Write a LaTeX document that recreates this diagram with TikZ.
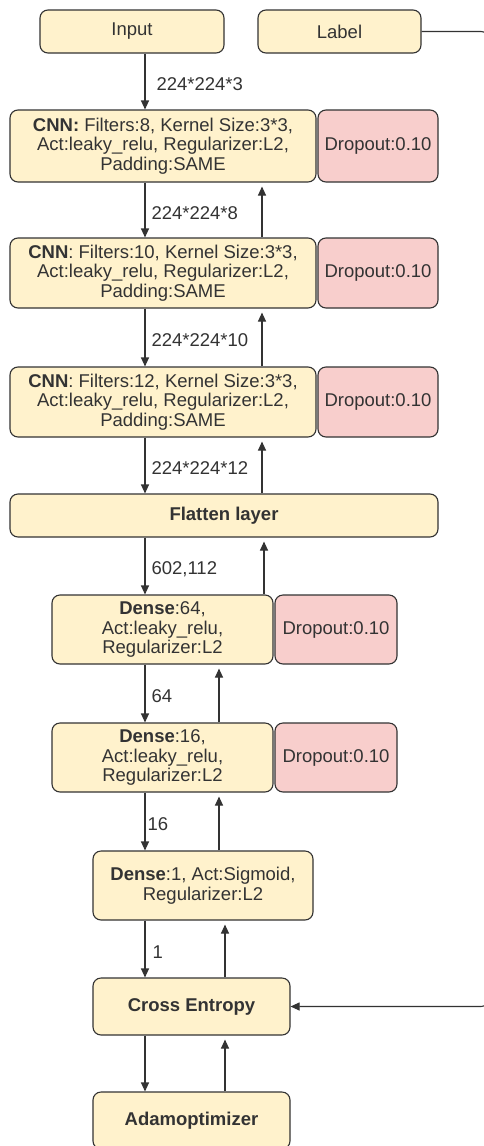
\documentclass[tikz,border=0pt]{standalone}
\usepackage{fontspec}
\setmainfont{Liberation Sans}
\usetikzlibrary{arrows.meta}
\definecolor{boxfill}{HTML}{FFF2CC}
\definecolor{dropfill}{HTML}{F8CECC}
\definecolor{ink}{HTML}{333333}
\begin{document}
\begin{tikzpicture}[x=1pt,y=-1pt,
  box/.style={draw=ink, line width=1.1pt, rounded corners=8pt, fill=boxfill, text=ink,
    align=center, inner sep=0pt, font=\fontsize{18.5}{19.7}\selectfont},
  dropbox/.style={box, fill=dropfill},
  arr/.style={draw=ink, line width=1.1pt, -{Triangle[width=8pt,length=9pt]}},
  lab/.style={right, inner sep=0pt, text=ink, font=\fontsize{18.5}{19.7}\selectfont, pos=0.55}
]
\useasboundingbox (0,0) rectangle (483,1146);
\fill[white] (0,0) rectangle (483,1146);

\coordinate (dn) at (145,0);
\coordinate (upA) at (262,0);
\coordinate (upB) at (264,0);
\coordinate (upC) at (219,0);
\coordinate (upD) at (225,0);
\coordinate (rt) at (490,0);

\node[box, minimum width=184pt, minimum height=43pt] (input) at (132,31.5) {Input};
\node[box, minimum width=163pt, minimum height=43pt] (label) at (339.5,31.5) {Label};

\node[box, minimum width=306pt, minimum height=72pt] (cnn1) at (163,146)
  {\textbf{CNN:} Filters:8, Kernel Size:3*3,\\Act:leaky\_relu, Regularizer:L2,\\Padding:SAME};
\node[dropbox, minimum width=120pt, minimum height=72pt] (drop1) at (378,146) {Dropout:0.10};

\node[box, minimum width=306pt, minimum height=70pt] (cnn2) at (163,273)
  {\textbf{CNN}: Filters:10, Kernel Size:3*3,\\Act:leaky\_relu, Regularizer:L2,\\Padding:SAME};
\node[dropbox, minimum width=120pt, minimum height=70pt] (drop2) at (378,273) {Dropout:0.10};

\node[box, minimum width=306pt, minimum height=70pt] (cnn3) at (163,402)
  {\textbf{CNN}: Filters:12, Kernel Size:3*3,\\Act:leaky\_relu, Regularizer:L2,\\Padding:SAME};
\node[dropbox, minimum width=120pt, minimum height=70pt] (drop3) at (378,402) {Dropout:0.10};

\node[box, minimum width=428pt, minimum height=43pt] (flat) at (224,515.5) {\textbf{Flatten layer}};

\node[box, minimum width=221pt, minimum height=69pt] (d64) at (162.5,629.5)
  {\textbf{Dense}:64,\\Act:leaky\_relu,\\Regularizer:L2};
\node[dropbox, minimum width=122pt, minimum height=69pt] (drop4) at (336,629.5) {Dropout:0.10};

\node[box, minimum width=221pt, minimum height=69pt] (d16) at (162.5,757.5)
  {\textbf{Dense}:16,\\Act:leaky\_relu,\\Regularizer:L2};
\node[dropbox, minimum width=122pt, minimum height=69pt] (drop5) at (336,757.5) {Dropout:0.10};

\node[box, minimum width=220pt, minimum height=69pt] (d1) at (203,885.5)
  {\textbf{Dense}:1, Act:Sigmoid,\\Regularizer:L2};

\node[box, minimum width=197pt, minimum height=57pt] (ce) at (191.5,1006.5) {\textbf{Cross Entropy}};
\node[box, minimum width=197pt, minimum height=57pt] (adam) at (191.5,1120.5) {\textbf{Adamoptimizer}};

% forward arrows
\draw[arr] (input.south -| dn) -- node[lab, xshift=11pt]{224*224*3} (cnn1.north -| dn);
\draw[arr] (cnn1.south -| dn) -- node[lab, xshift=6pt]{224*224*8} (cnn2.north -| dn);
\draw[arr] (cnn2.south -| dn) -- node[lab, xshift=6pt]{224*224*10} (cnn3.north -| dn);
\draw[arr] (cnn3.south -| dn) -- node[lab, xshift=6pt]{224*224*12} (flat.north -| dn);
\draw[arr] (flat.south -| dn) -- node[lab, xshift=6pt]{602,112} (d64.north -| dn);
\draw[arr] (d64.south -| dn) -- node[lab, xshift=6pt]{64} (d16.north -| dn);
\draw[arr] (d16.south -| dn) -- node[lab, xshift=2pt]{16} (d1.north -| dn);
\draw[arr] (d1.south -| dn) -- node[lab, xshift=7pt]{1} (ce.north -| dn);
\draw[arr] (ce.south -| dn) -- (adam.north -| dn);

% backward arrows
\draw[arr, shorten >=4pt] (cnn2.north -| upA) -- (cnn1.south -| upA);
\draw[arr, shorten >=4pt] (cnn3.north -| upA) -- (cnn2.south -| upA);
\draw[arr, shorten >=4pt] (flat.north -| upA) -- (cnn3.south -| upA);
\draw[arr, shorten >=4pt] (d64.north -| upB) -- (flat.south -| upB);
\draw[arr, shorten >=4pt] (d16.north -| upC) -- (d64.south -| upC);
\draw[arr, shorten >=4pt] (d1.north -| upC) -- (d16.south -| upC);
\draw[arr, shorten >=4pt] (ce.north -| upD) -- (d1.south -| upD);
\draw[arr, shorten >=4pt] (adam.north -| upD) -- (ce.south -| upD);

% label to cross entropy
\draw[arr, rounded corners=9pt] (label.east) -- (label.east -| rt) -- (ce.east -| rt) -- (ce.east);
\end{tikzpicture}
\end{document}
